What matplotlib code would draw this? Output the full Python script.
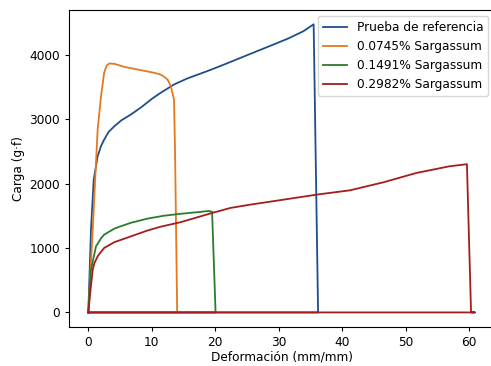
import numpy as np
import matplotlib
matplotlib.use('Agg')
import matplotlib.pyplot as plt

# deformation (mm/mm) and load (g.f)
x_ref = [0, 0.42, 0.85, 1.47, 2.0, 2.5, 3.2, 4.1, 5.2, 6.7, 8.3, 10.1, 11.4, 13.5, 15.6, 18.7, 21.0, 24.0, 26.5, 29.2, 31.5, 33.9, 35.5, 36.2, 0]
y_ref = [0, 1284, 2060, 2422, 2580, 2682, 2800, 2888, 2980, 3070, 3180, 3320, 3407, 3536, 3630, 3742, 3830, 3950, 4050, 4157, 4250, 4363, 4470, 0, 0]

x_074 = [0, 0.3, 0.69, 1.21, 1.47, 2.0, 2.5, 2.9, 3.3, 4.1, 5.65, 8.3, 10.4, 11.4, 11.9, 12.5, 13.0, 13.5, 13.66, 14.0, 0]
y_074 = [0, 560, 1284, 2320, 2837, 3354, 3720, 3830, 3862, 3857, 3810, 3758, 3717, 3690, 3660, 3610, 3509, 3303, 2526, 0, 0]

x_149 = [0, 0.2, 0.42, 0.94, 1.21, 2.0, 2.5, 4.1, 5.1, 6.7, 9.3, 11.9, 14.55, 17.7, 19.0, 19.5, 20.05, 0]
y_149 = [0, 380, 663, 900, 1025, 1150, 1207, 1300, 1336, 1390, 1455, 1500, 1530, 1560, 1575, 1560, 0, 0]

x_298 = [0, 0.3, 0.69, 0.94, 1.47, 2.0, 2.5, 4.1, 6.7, 9.3, 11.4, 14.55, 19.5, 22.4, 25.5, 30.8, 36.0, 41.2, 46.5, 51.7, 56.9, 59.65, 60.3, 60.9, 0]
y_298 = [0, 300, 663, 760, 870, 940, 1000, 1090, 1180, 1270, 1330, 1400, 1543, 1621, 1672, 1750, 1828, 1894, 2019, 2164, 2267, 2300, 0, 0, 0]

labels = ['Prueba de referencia', '0.0745% Sargassum', '0.1491% Sargassum', '0.2982% Sargassum']
colors = ['#1f4e8c', '#e6781e', '#2a7d2a', '#a31d1d']

fig = plt.figure(figsize=(4.91, 3.66), dpi=100)
ax = fig.add_axes([0.1405, 0.107, 0.866, 0.866])

series = [(x_ref, y_ref), (x_074, y_074), (x_149, y_149), (x_298, y_298)]
for (xs, ys), lab, col in zip(series, labels, colors):
    ax.plot(xs, ys, color=col, lw=1.3, label=lab)

fs = 8.7
ax.set_xlabel('Deformación (mm/mm)', fontsize=fs, labelpad=1)
ax.set_ylabel('Carga (g·f)', fontsize=fs, labelpad=3)
ax.tick_params(labelsize=fs, length=3)
ax.set_xticks([0, 10, 20, 30, 40, 50, 60])
ax.set_yticks([0, 1000, 2000, 3000, 4000])
ax.legend(loc='upper right', fontsize=fs, handlelength=2.0)

fig.savefig('out.png', dpi=100)
